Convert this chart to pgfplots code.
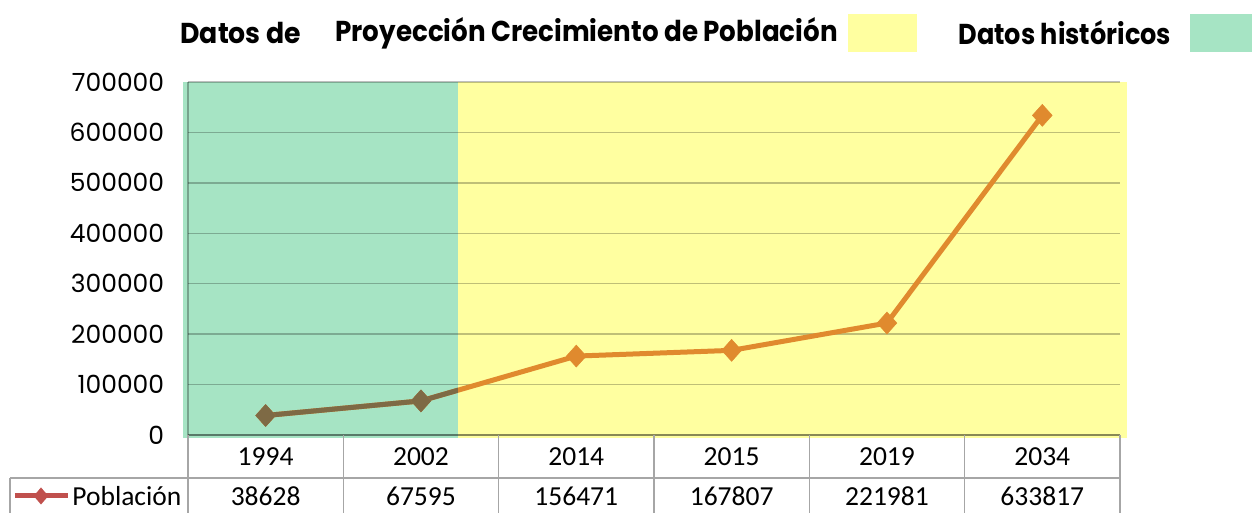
\documentclass[border=0pt]{standalone}
\usepackage{fontspec}
\setmainfont{Carlito}
\newfontfamily\gothic{Poppins}
\newfontfamily\gothicA{Poppins}[FakeStretch=0.93]
\newfontfamily\gothicB{Poppins}[FakeStretch=0.91]
\newfontfamily\gothicC{Poppins}[FakeStretch=0.89]
\usepackage{pgfplots}
\pgfplotsset{compat=1.18}
\usetikzlibrary{shapes.geometric}

\definecolor{histgreen}{HTML}{A6E4C4}
\definecolor{projyellow}{HTML}{FFFFA0}
\definecolor{lineorange}{HTML}{E08A2E}
\definecolor{linebrown}{HTML}{7E6A45}
\definecolor{keyred}{HTML}{C0504D}
\definecolor{tablegray}{HTML}{A6A6A6}

% 1 px of the reference = 0.4pt; 1 px in y = 1983 data units
\begin{document}
\begin{tikzpicture}
\begin{axis}[
  set layers,
  scale only axis, width=372.8pt, height=141.2pt,
  xmin=-0.5, xmax=5.5, ymin=0, ymax=700000,
  clip=false,
  axis y line*=left, axis x line*=bottom,
  axis line style={draw=black, draw opacity=0.28, line width=0.6pt},
  xtick=\empty,
  ytick={0,100000,...,700000},
  ymajorgrids, grid style={draw=black, draw opacity=0.25, line width=0.6pt},
  major tick length=0pt,
  scaled y ticks=false,
  yticklabel style={font=\gothic\fontsize{10}{12}\selectfont, text=black,
    /pgf/number format/fixed, /pgf/number format/1000 sep={},
    /pgf/number format/assume math mode=true, xshift=-6pt},
]
\begin{pgfonlayer}{axis background}
  \fill[histgreen] (axis cs:-0.532,-5950) rectangle (axis cs:1.238,700000);
  \fill[projyellow] (axis cs:1.238,-5950) rectangle (axis cs:5.545,700000);
\end{pgfonlayer}

\addplot[lineorange, line width=2pt, mark=diamond*,
  mark size=4.4pt, mark options={solid, fill=lineorange, draw=lineorange, line width=0.2pt, xscale=1.2}]
  coordinates {(0,38628) (1,67595) (2,156471) (3,167807) (4,221981) (5,633817)};

\begin{scope}
  \clip (axis cs:-0.7,-10000) rectangle (axis cs:1.238,710000);
  \addplot[linebrown, line width=2pt, mark=diamond*, mark indices={1,2},
    mark size=4.4pt, mark options={solid, fill=linebrown, draw=linebrown, line width=0.2pt, xscale=1.2}]
    coordinates {(0,38628) (1,67595) (2,156471) (3,167807) (4,221981) (5,633817)};
\end{scope}

% data table under the axis
\draw[tablegray, line width=0.6pt] (axis cs:-1.646,-85270) -- (axis cs:5.5,-85270);
\draw[tablegray, line width=0.6pt] (axis cs:-1.646,-85270) -- (axis cs:-1.646,-155000);
\pgfplotsinvokeforeach{-0.5,0.5,1.5,2.5,3.5,4.5,5.5}{
  \draw[tablegray, line width=0.6pt] (axis cs:#1,0) -- (axis cs:#1,-155000);
}
\foreach \i/\yr/\v in {0/1994/38628, 1/2002/67595, 2/2014/156471, 3/2015/167807, 4/2019/221981, 5/2034/633817} {
  \edef\tmp{\noexpand\node[font=\noexpand\fontsize{11}{13}\noexpand\selectfont] at (axis cs:\i,-43600) {\yr};
    \noexpand\node[font=\noexpand\fontsize{11}{13}\noexpand\selectfont] at (axis cs:\i,-120960) {\v};}
  \tmp
}
\draw[keyred, line width=2pt] (axis cs:-1.614,-120960) -- (axis cs:-1.273,-120960);
\node[keyred, fill=keyred, diamond, inner sep=0pt, minimum width=6pt, minimum height=7pt] at (axis cs:-1.446,-120960) {};
\node[anchor=west, font=\fontsize{11}{13}\selectfont, inner sep=0pt] at (axis cs:-1.247,-120960) {Población};

% title strip
\node[anchor=west, inner sep=0pt, font=\gothicA\bfseries\fontsize{11.5}{13}\selectfont] at (axis cs:-0.5515,797000) {Datos de};
\node[anchor=west, inner sep=0pt, font=\gothicB\bfseries\fontsize{11.5}{13}\selectfont] at (axis cs:0.446,797000) {Proyección Crecimiento de Población};
\fill[projyellow] (axis cs:3.749,759490) rectangle (axis cs:4.193,834844);
\node[anchor=west, inner sep=0pt, font=\gothicC\bfseries\fontsize{11.5}{13}\selectfont] at (axis cs:4.457,797000) {Datos históricos};
\fill[histgreen] (axis cs:5.951,759490) rectangle (axis cs:6.4,834844);

\coordinate (bl) at (axis cs:-1.71,-154700);
\coordinate (tr) at (axis cs:6.35,862600);
\end{axis}
\pgfresetboundingbox
\path (bl) rectangle (tr);
\end{tikzpicture}
\end{document}
